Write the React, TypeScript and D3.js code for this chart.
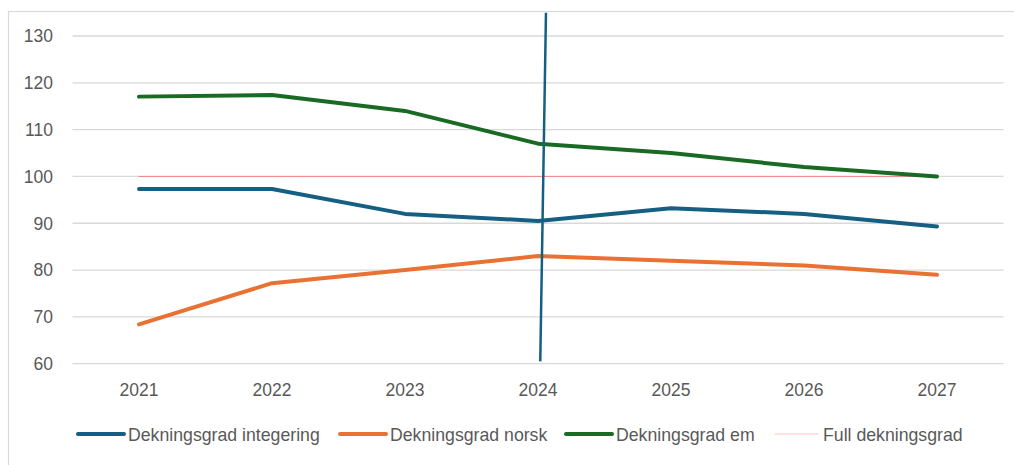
import React from "react";
import * as d3 from "d3";

// Coverage ratios (percent) per year
const years = ["2021", "2022", "2023", "2024", "2025", "2026", "2027"];
const integrering = [97.3, 97.3, 92, 90.5, 93.2, 92, 89.3];
const norsk = [68.4, 77.2, 80, 83, 82, 81, 79];
const em = [117.05, 117.4, 114, 107, 105, 102, 100];
const full = [100, 100, 100, 100, 100, 100, 100];
const yTicks = [60, 70, 80, 90, 100, 110, 120, 130];

// Marker line near 2024 (x in category-index units)
const markerX = [3.017, 3.06];
const markerY = [60.5, 135];

const W = 1014;
const H = 465;

const seriesDefs = [
  { name: "Dekningsgrad integering", values: integrering, color: "#156082", width: 4 },
  { name: "Dekningsgrad norsk", values: norsk, color: "#E97132", width: 4 },
  { name: "Dekningsgrad em", values: em, color: "#196B24", width: 4 },
  { name: "Full dekningsgrad", values: full, color: "#F08A8A", width: 1 },
];

export default function App() {
  const x = d3.scaleBand<string>().domain(years).range([72.5, 1003.5]).padding(0);
  const xc = (d: string) => (x(d) as number) + x.bandwidth() / 2;
  const xi = d3.scaleLinear().domain([0, years.length - 1]).range([xc(years[0]), xc(years[years.length - 1])]);
  const y = d3.scaleLinear().domain([60, 130]).range([363.7, 36]);

  const line = d3
    .line<number>()
    .x((_, i) => xc(years[i]))
    .y((v) => y(v));

  const markerLine = d3
    .line<number>()
    .x((v) => xi(v))
    .y((_, i) => y(markerY[i]));

  const drawOrder = [3, 0, 1, 2];
  const legendX = [78, 340, 566, 775];
  const legendLen = [46, 46, 46, 43];

  const font = "'Liberation Sans', Arial, sans-serif";

  return (
    <svg
      width={W}
      height={H}
      style={{ position: "absolute", left: 0, top: 0, background: "#fff" }}
      fontFamily={font}
    >
      <defs>
        <clipPath id="chartClip">
          <rect x={9} y={12.5} width={W} height={H} />
        </clipPath>
      </defs>
      <rect x={8.5} y={11.5} width={W + 20} height={H + 20} fill="#fff" stroke="#d9d9d9" strokeWidth={1.2} />

      {/* gridlines */}
      {yTicks.map((t) => (
        <line key={t} x1={72.5} x2={1003.5} y1={y(t)} y2={y(t)} stroke="#d9d9d9" strokeWidth={1.3} />
      ))}

      {/* y tick labels */}
      {yTicks.map((t) => (
        <text key={t} x={53} y={y(t) + 6.3} textAnchor="end" fontSize={17.5} fill="#595959">
          {t}
        </text>
      ))}

      {/* x tick labels */}
      {years.map((yr) => (
        <text key={yr} x={xc(yr)} y={395.5} textAnchor="middle" fontSize={17.5} fill="#595959">
          {yr}
        </text>
      ))}

      {/* series */}
      {drawOrder.map((k) => {
        const s = seriesDefs[k];
        return (
          <path
            key={s.name}
            d={line(s.values) as string}
            fill="none"
            stroke={s.color}
            strokeWidth={s.width}
            strokeLinecap="round"
            strokeLinejoin="round"
          />
        );
      })}

      {/* marker line */}
      <g clipPath="url(#chartClip)">
        <path d={markerLine(markerX) as string} fill="none" stroke="#156082" strokeWidth={2.5} />
      </g>

      {/* legend */}
      {seriesDefs.map((s, i) => (
        <g key={s.name}>
          <line
            x1={legendX[i]}
            x2={legendX[i] + legendLen[i]}
            y1={434}
            y2={434}
            stroke={i === 3 ? "#F8C4C4" : s.color}
            strokeWidth={s.width}
            strokeLinecap="round"
          />
          <text x={legendX[i] + legendLen[i] + (i === 3 ? 5 : 4)} y={440.8} fontSize={17.7} fill="#595959">
            {s.name}
          </text>
        </g>
      ))}
    </svg>
  );
}
